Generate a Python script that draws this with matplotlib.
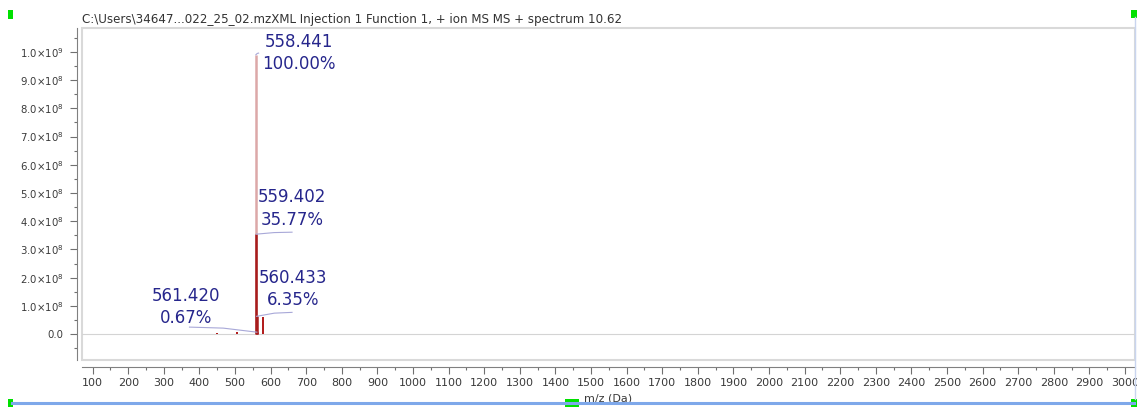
import matplotlib
matplotlib.use("Agg")
import matplotlib.pyplot as plt
from matplotlib.patches import Rectangle
from matplotlib.lines import Line2D
from matplotlib.ticker import MultipleLocator, FuncFormatter

# labelled isotope peaks
peak_mz = [558.441, 559.402, 560.433, 561.420]
peak_pct = [100.00, 35.77, 6.35, 0.67]
# unlabelled peaks (m/z, % of base peak)
other_mz = [449.0, 505.0, 578.0]
other_pct = [0.5, 0.6, 6.0]
base_intensity = 9.9e8

title = "C:\\Users\\34647...022_25_02.mzXML Injection 1 Function 1, + ion MS MS + spectrum 10.62"

W, H = 1137, 407
fig = plt.figure(figsize=(W / 100, H / 100), dpi=100)
ax = fig.add_axes([82 / W, 1 - 360 / H, 1053 / W, 332 / H])

ax.set_xlim(70, 3028)
ax.set_ylim(-0.92e8, 10.85e8)

# baseline
ax.axhline(0, color="#d4d4d4", lw=0.8, zorder=1)

# spectrum sticks
ax.vlines(other_mz, 0, [p / 100 * base_intensity for p in other_pct],
          color="#b01818", lw=1.4, zorder=2)
ax.vlines(peak_mz[0], 0, peak_pct[0] / 100 * base_intensity,
          color="#dca8a8", lw=1.8, zorder=2)
ax.vlines(peak_mz[1:], 0, [p / 100 * base_intensity for p in peak_pct[1:]],
          color="#a81c1c", lw=1.8, zorder=3)

# label text centres and where each leader line ends (m/z, offset above peak)
label_pos = [(680, 9.96e8), (660, 4.45e8), (663, 1.60e8), (362, 0.96e8)]
leader_end = [(566, 0.06e8), (660, 0.07e8), (660, 0.14e8), (372, 0.18e8)]
for mz, pct, pos, (ex, dy) in zip(peak_mz, peak_pct, label_pos, leader_end):
    top = pct / 100 * base_intensity
    ax.text(pos[0], pos[1], "%.3f\n%.2f%%" % (mz, pct),
            ha="center", va="center", multialignment="center",
            fontsize=12, color="#26268c", linespacing=1.3, zorder=4)
    ax.plot([mz, (mz + ex) / 2, ex], [top, top + dy * 0.8, top + dy],
            color="#a8a8d8", lw=0.8, zorder=4)

# axes styling
for s in ["top", "right"]:
    ax.spines[s].set_visible(False)
ax.spines["left"].set_position(("outward", 3.6))
ax.spines["bottom"].set_position(("outward", 5))
ax.spines["left"].set_color("#808080")
ax.spines["bottom"].set_color("#808080")
ax.add_patch(Rectangle((0, 0), 1, 1, transform=ax.transAxes, fill=False,
                       edgecolor="#d9d9d9", lw=1.5, clip_on=False, zorder=0))

ax.xaxis.set_major_locator(MultipleLocator(100))
ax.xaxis.set_minor_locator(MultipleLocator(50))
ax.yaxis.set_major_locator(MultipleLocator(1e8))
ax.yaxis.set_minor_locator(MultipleLocator(0.5e8))


def yfmt(v, pos):
    if abs(v) < 1:
        return "0.0"
    exp = 9 if v >= 9.99e8 else 8
    return r"$%.1f{\times}10^{%d}$" % (v / 10 ** exp, exp)


ax.yaxis.set_major_formatter(FuncFormatter(yfmt))
ax.xaxis.set_major_formatter(FuncFormatter(lambda v, p: "%d" % v))
ax.tick_params(axis="both", which="major", length=5, width=0.8,
               color="#707070", labelcolor="#3a3a3a", labelsize=8)
ax.tick_params(axis="y", labelsize=7.3, pad=4.5)
ax.tick_params(axis="both", which="minor", length=2.5, width=0.8, color="#707070")
ax.tick_params(axis="x", pad=3)
ax.set_xlabel("m/z (Da)", fontsize=8, color="#3a3a3a", labelpad=4)

fig.text(82 / W, 1 - 19 / H, title, fontsize=8.6, color="#333333",
         ha="left", va="center")

# selection frame around the chart
fig.add_artist(Line2D([12 / W, 1134 / W], [1 - 403 / H] * 2, color="#7ea8ea", lw=2.2))
fig.add_artist(Line2D([1135 / W] * 2, [1 - 17 / H, 1 - 399 / H], color="#c9d5ef", lw=1))
for cx, cy, w in [(10.5, 14.5, 5), (1134, 14, 6), (10.5, 403, 5), (572, 403, 14), (1134, 403, 6)]:
    fig.add_artist(Rectangle(((cx - w / 2) / W, 1 - (cy + 4) / H), w / W, 8 / H,
                             color="#00e000", lw=0))

fig.savefig("out.png", dpi=100)
